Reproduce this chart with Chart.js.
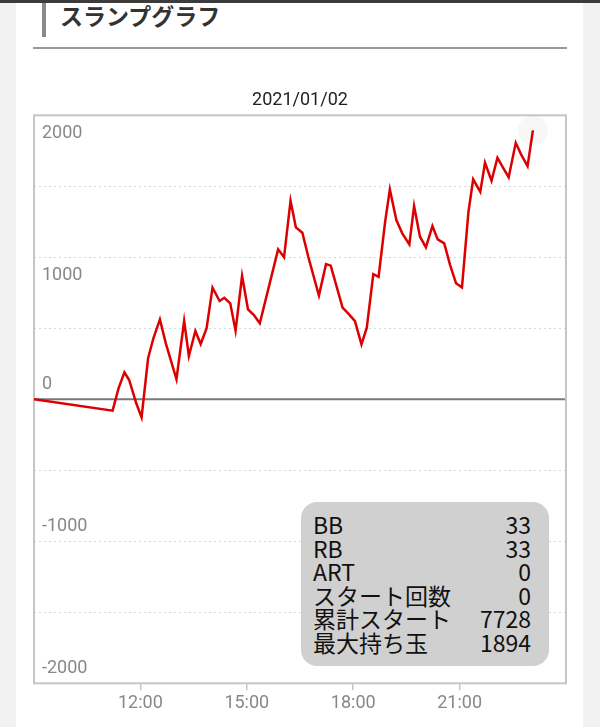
<!DOCTYPE html>
<html lang="ja">
<head>
<meta charset="utf-8">
<script src="https://cdn.jsdelivr.net/npm/chart.js@4.4.1/dist/chart.umd.min.js"></script>
<style>
  html, body { margin: 0; padding: 0; }
  body { width: 600px; height: 727px; background: #f2f2f2; position: relative; overflow: hidden; }
  #card { position: absolute; left: 16px; top: 0; width: 567px; height: 727px; background: #fff; }
  #topbar { position: absolute; left: 0; top: 0; width: 600px; height: 3px; background: #3c3c3c; z-index: 5; }
  #hbar { position: absolute; left: 42px; top: 0; width: 4px; height: 37px; background: #8a8a8a; }
  #htext { position: absolute; left: 60px; top: -2px; font-family: "Noto Sans CJK JP"; font-weight: 700; font-size: 23px; line-height: 34px; color: #333; white-space: nowrap; }
  #hrule { position: absolute; left: 33px; top: 47px; width: 534px; height: 2px; background: #9a9a9a; }
  #c { position: absolute; left: 0; top: 0; }
  #info { position: absolute; left: 301px; top: 502px; width: 248px; height: 164px; background: #d0d0d0; border-radius: 16px;
          box-sizing: border-box; padding: 11px 18px 0 12px; font-family: "Noto Sans CJK JP"; font-size: 23px; line-height: 23.5px; color: #111; }
  #info .row { display: flex; justify-content: space-between; white-space: nowrap; }
</style>
</head>
<body>
<div id="card"></div>
<div id="topbar"></div>
<div id="hbar"></div>
<div id="htext">スランプグラフ</div>
<div id="hrule"></div>
<canvas id="c" width="600" height="727"></canvas>
<div id="info"></div>
<script>
// ---- data ----
const TITLE = "2021/01/02";
const HEADER = "スランプグラフ";
const times = ["09:00","11:13","11:23","11:33","11:41","11:53","12:02","12:13","12:22","12:33",
  "12:43","13:01","13:14","13:22","13:33","13:42","13:52","14:02","14:14","14:22",
  "14:32","14:41","14:52","15:02","15:12","15:22","15:53","16:03","16:14","16:23",
  "16:34","16:44","17:02","17:14","17:22","17:42","17:53","18:03","18:14","18:23",
  "18:34","18:43","18:54","19:02","19:13","19:23","19:35","19:43","19:53","20:03",
  "20:14","20:23","20:34","20:44","20:54","21:04","21:15","21:23","21:35","21:43",
  "21:54","22:04","22:12","22:23","22:35","22:44","22:55","23:04"];
const values = [0,-80,77,190,136,-28,-127,289,430,563,
  394,141,551,305,481,389,500,786,692,715,
  676,483,870,634,593,535,1056,1000,1398,1211,
  1173,1004,730,952,941,645,598,551,387,504,
  882,863,1250,1478,1262,1169,1091,1361,1145,1070,
  1220,1126,1098,945,817,788,1321,1549,1461,1666,
  1539,1701,1642,1563,1806,1725,1642,1894];
const xTickHours = [12, 15, 18, 21];
const yTickLabels = [2000, 1000, 0, -1000, -2000];
const infoLabels = ["BB", "RB", "ART", "スタート回数", "累計スタート", "最大持ち玉"];
const infoValues = [33, 33, 0, 0, 7728, 1894];

// ---- info box ----
const info = document.getElementById('info');
infoLabels.forEach((l, i) => {
  const r = document.createElement('div');
  r.className = 'row';
  const a = document.createElement('span'); a.textContent = l;
  const b = document.createElement('span'); b.textContent = String(infoValues[i]);
  r.appendChild(a); r.appendChild(b); info.appendChild(r);
});

const toHour = t => { const [h, m] = t.split(':').map(Number); return h + m / 60; };
const points = times.map((t, i) => ({ x: toHour(t), y: values[i] }));

const framePlugin = {
  id: 'frame',
  beforeDatasetsDraw(chart) {
    const { ctx, chartArea: a, scales } = chart;
    ctx.save();
    // zero line
    const y0 = scales.y.getPixelForValue(0);
    ctx.strokeStyle = '#7a7a7a'; ctx.lineWidth = 2;
    ctx.beginPath(); ctx.moveTo(a.left, y0); ctx.lineTo(a.right, y0); ctx.stroke();
    // frame
    ctx.strokeStyle = '#c6c6c6'; ctx.lineWidth = 2;
    ctx.strokeRect(a.left, a.top, a.right - a.left, a.bottom - a.top);
    // y labels inside the chart
    ctx.fillStyle = '#888'; ctx.font = '18px Roboto';
    ctx.textAlign = 'left'; ctx.textBaseline = 'middle';
    yTickLabels.forEach(v => {
      const py = scales.y.getPixelForValue(v);
      ctx.fillText(String(v), a.left + 8, v > 0 ? py + 18 : py - 14.5);
    });
    ctx.restore();
  }
};

new Chart(document.getElementById('c'), {
  type: 'line',
  data: {
    datasets: [{
      data: points,
      borderColor: '#dd0000',
      borderWidth: 2.5,
      tension: 0,
      fill: false,
      pointRadius: c => (c.dataIndex === values.length - 1 ? 15 : 0),
      pointBackgroundColor: 'rgba(0,0,0,0.03)',
      pointBorderWidth: 0
    }]
  },
  options: {
    responsive: false,
    animation: false,
    devicePixelRatio: 1,
    layout: { padding: { left: 34, right: 34, top: 0, bottom: 0 } },
    plugins: {
      legend: { display: false },
      tooltip: { enabled: false },
      title: {
        display: true, text: TITLE, color: '#222',
        font: { family: 'Roboto', size: 18, weight: 'normal' },
        padding: { top: 89.2, bottom: 4.5 }
      }
    },
    scales: {
      x: {
        type: 'linear', min: 9, max: 24,
        afterBuildTicks: s => { s.ticks = xTickHours.map(v => ({ value: v })); },
        afterFit: s => { s.height = 43.7; },
        ticks: {
          autoSkip: false, maxRotation: 0, padding: 2,
          color: '#888', font: { family: 'Roboto', size: 18 },
          callback: v => String(v).padStart(2, '0') + ':00'
        },
        grid: { drawOnChartArea: false, drawTicks: true, tickLength: 7, color: '#c6c6c6', lineWidth: 1.5 },
        border: { display: false }
      },
      y: {
        min: -2000, max: 2000,
        afterFit: s => { s.width = 0; },
        ticks: { stepSize: 500, display: false },
        grid: {
          drawTicks: false,
          color: c => (Math.abs(c.tick.value) === 2000 || c.tick.value === 0 ? 'rgba(0,0,0,0)' : '#d8d8d8'),
          lineWidth: 1
        },
        border: { display: false, dash: [2, 3] }
      }
    }
  },
  plugins: [framePlugin]
});
</script>
</body>
</html>
